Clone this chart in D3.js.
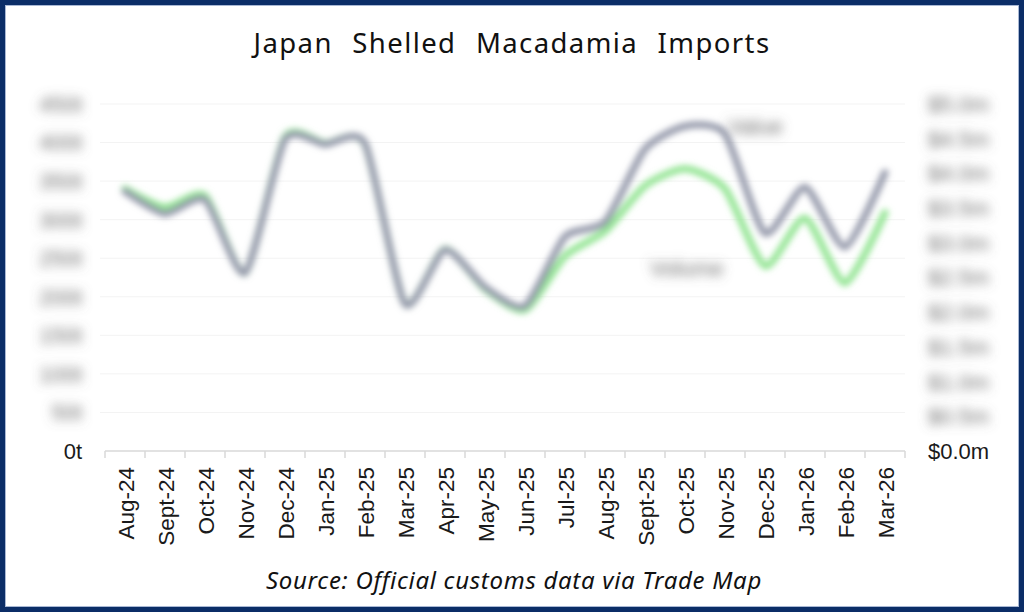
<!DOCTYPE html>
<html><head><meta charset="utf-8">
<script src="https://cdn.jsdelivr.net/npm/d3@7"></script>
<style>
html,body{margin:0;padding:0;background:#fff;}
svg{display:block;}
</style></head>
<body>
<svg id="chart" width="1024" height="612"></svg>
<script>
const months = ["Aug-24","Sept-24","Oct-24","Nov-24","Dec-24","Jan-25","Feb-25","Mar-25","Apr-25","May-25","Jun-25","Jul-25","Aug-25","Sept-25","Oct-25","Nov-25","Dec-25","Jan-26","Feb-26","Mar-26"];
// Volume in tonnes (left axis)
const volumeT = [340,316,331,231,407,399,398,191,262,210,183,253,285,344,366,340,240,302,218,309];
// Value in US$ million (right axis)
const valueM = [3.74,3.42,3.62,2.57,4.49,4.42,4.43,2.12,2.90,2.36,2.09,3.09,3.30,4.35,4.68,4.57,3.14,3.80,2.94,4.01];
const leftTicks = [0,50,100,150,200,250,300,350,400,450];
const rightTicks = [0,0.5,1.0,1.5,2.0,2.5,3.0,3.5,4.0,4.5,5.0];
const seriesNames = ["Value","Volume"];
const titleText = "Japan Shelled Macadamia Imports";
const sourceText = "Source: Official customs data via Trade Map";

const svg = d3.select("#chart");
const W = 1024, H = 612;
const plot = {left:105, right:905, top:104, bottom:451};

const defs = svg.append("defs");
const fb = defs.append("filter").attr("id","blurText")
  .attr("x","-60%").attr("y","-150%").attr("width","220%").attr("height","400%");
fb.append("feGaussianBlur").attr("stdDeviation",5.5);
const fl = defs.append("filter").attr("id","blurLine")
  .attr("filterUnits","userSpaceOnUse").attr("x",0).attr("y",0).attr("width",W).attr("height",H);
fl.append("feGaussianBlur").attr("stdDeviation",3.2);

svg.append("rect").attr("width",W).attr("height",H).attr("fill","#fff");

const x = d3.scaleBand().domain(months).range([plot.left, plot.right]);
const yL = d3.scaleLinear().domain([0,450]).range([plot.bottom, plot.top]);
const yR = d3.scaleLinear().domain([0,5]).range([plot.bottom, plot.top]);

// gridlines
svg.append("g").selectAll("line").data(leftTicks.slice(1)).join("line")
  .attr("x1",plot.left-5).attr("x2",plot.right)
  .attr("y1",d=>yL(d)).attr("y2",d=>yL(d))
  .attr("stroke","#f3f3f3").attr("stroke-width",1);

const fmtL = d => d3.format(",")(d) + "t";
const fmtR = d => "$" + d3.format(".1f")(d) + "m";
const font = "Liberation Sans, Arial, sans-serif";
svg.append("g").selectAll("text").data(leftTicks).join("text")
  .attr("x",82).attr("y",d=>yL(d)).attr("dy","0.36em").attr("text-anchor","end")
  .attr("font-family",font).attr("font-size",22)
  .attr("fill",d=>d===0?"#1a1a1a":"#6a6a6a")
  .attr("filter",d=>d===0?null:"url(#blurText)")
  .text(fmtL);
svg.append("g").selectAll("text").data(rightTicks).join("text")
  .attr("x",928).attr("y",d=>yR(d)).attr("dy","0.36em").attr("text-anchor","start")
  .attr("font-family",font).attr("font-size",22)
  .attr("fill",d=>d===0?"#1a1a1a":"#6a6a6a")
  .attr("filter",d=>d===0?null:"url(#blurText)")
  .text(fmtR);

// x axis
const ax = svg.append("g");
ax.append("line").attr("x1",plot.left).attr("x2",plot.right).attr("y1",plot.bottom).attr("y2",plot.bottom)
  .attr("stroke","#d9d9d9").attr("stroke-width",1.5);
const edges = months.map(m=>x(m)).concat([x(months[months.length-1])+x.bandwidth()]);
ax.selectAll("line.tk").data(edges).join("line").attr("class","tk")
  .attr("x1",d=>d).attr("x2",d=>d).attr("y1",plot.bottom).attr("y2",plot.bottom+7)
  .attr("stroke","#d9d9d9").attr("stroke-width",1.5);
ax.selectAll("text").data(months).join("text")
  .attr("transform",d=>`translate(${x(d)+x.bandwidth()/2+1},${plot.bottom+16}) rotate(-90)`)
  .attr("text-anchor","end").attr("dy","0.36em")
  .attr("font-family",font).attr("font-size",22.5)
  .attr("fill","#1a1a1a")
  .text(d=>d);

// lines
const cx = d => x(d) + x.bandwidth()/2;
const curve = d3.curveCardinal.tension(0.35);
const lineG = svg.append("g").attr("filter","url(#blurLine)");
const lineVol = d3.line().x((d,i)=>cx(months[i])).y(d=>yL(d)).curve(curve);
const lineVal = d3.line().x((d,i)=>cx(months[i])).y(d=>yR(d)).curve(curve);
lineG.append("path").attr("d",lineVol(volumeT)).attr("fill","none")
  .attr("stroke","#92e492").attr("stroke-width",7).attr("stroke-linecap","round").attr("stroke-linejoin","round");
lineG.append("path").attr("d",lineVal(valueM)).attr("fill","none")
  .attr("stroke","#959aab").attr("stroke-width",7).attr("stroke-linecap","round").attr("stroke-linejoin","round");

// series labels (blurred)
svg.append("text").attr("x",cx(months[15])+3).attr("y",yR(valueM[14])).attr("dy","0.36em")
  .attr("font-family",font).attr("font-size",22)
  .attr("fill","#6a6a6a").attr("filter","url(#blurText)").text(seriesNames[0]);
svg.append("text").attr("x",cx(months[13])+5).attr("y",yL(volumeT[16])+2).attr("dy","0.36em")
  .attr("font-family",font).attr("font-size",22)
  .attr("fill","#6a6a6a").attr("filter","url(#blurText)").text(seriesNames[1]);

// title & source
svg.append("text").attr("x",W/2).attr("y",53).attr("text-anchor","middle")
  .attr("font-family","Noto Sans, Open Sans, sans-serif").attr("font-size",27.5)
  .attr("letter-spacing",1.4).attr("word-spacing",11)
  .attr("fill","#111").text(titleText);
svg.append("text").attr("x",W/2+2).attr("y",589).attr("text-anchor","middle")
  .attr("font-family","Noto Sans, Open Sans, sans-serif").attr("font-size",24).attr("font-style","italic")
  .attr("letter-spacing",0.7)
  .attr("fill","#111").text(sourceText);

// border
svg.append("rect").attr("x",2.5).attr("y",2.5).attr("width",W-5).attr("height",H-5)
  .attr("fill","none").attr("stroke","#0b2d67").attr("stroke-width",5);
svg.append("rect").attr("x",5.5).attr("y",5.5).attr("width",W-11).attr("height",H-11)
  .attr("fill","none").attr("stroke","#a9b8d4").attr("stroke-width",1);
</script>
</body></html>
